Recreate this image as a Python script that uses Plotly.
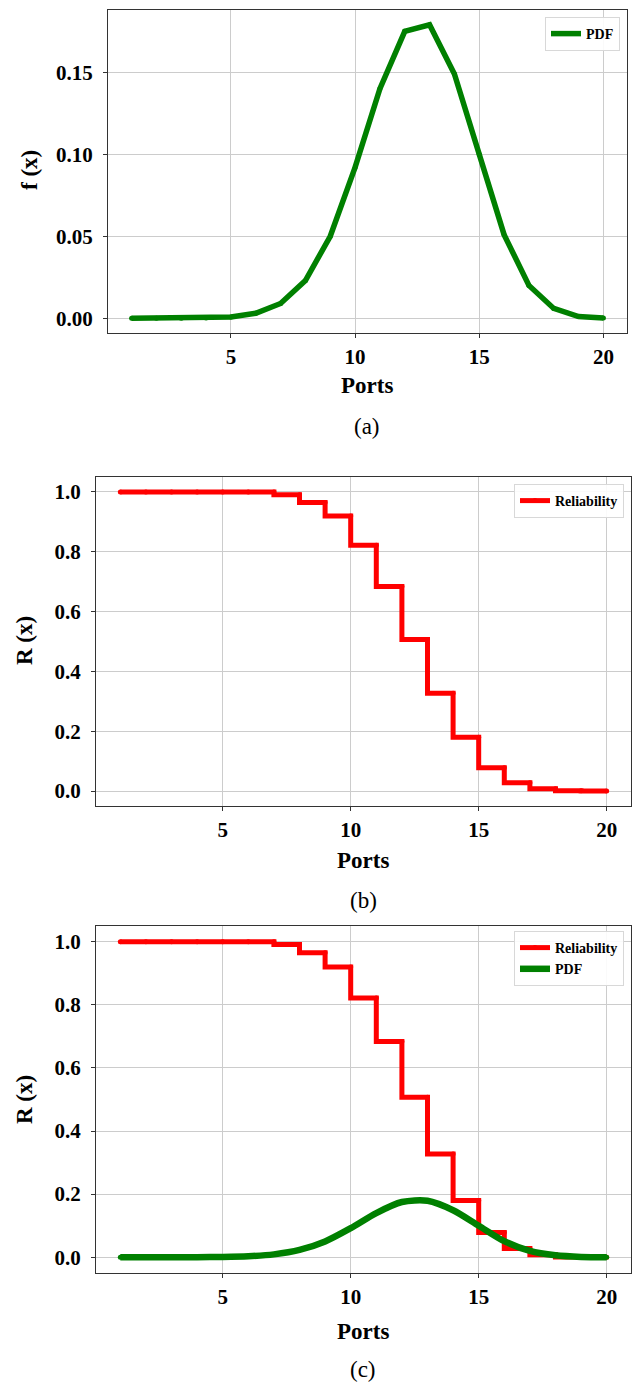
import plotly.graph_objects as go

ports = list(range(1, 21))
pdf = [0.0000, 0.0000, 0.0000, 0.0001, 0.0008, 0.003, 0.009, 0.023, 0.050, 0.092,
       0.140, 0.175, 0.179, 0.149, 0.100, 0.051, 0.020, 0.006, 0.001, 0.0002]
reliability = [1.0, 1.0, 1.0, 1.0, 1.0, 1.0, 1.0, 0.991, 0.965, 0.920,
               0.822, 0.684, 0.507, 0.327, 0.180, 0.078, 0.028, 0.008, 0.001, 0.0]
xticks = [5, 10, 15, 20]
ticks_a = [0.00, 0.05, 0.10, 0.15]
ticks_b = [0.0, 0.2, 0.4, 0.6, 0.8, 1.0]

W, H = 636, 1385
SERIF = "Liberation Serif, Times New Roman, serif"
GREEN = "#008000"
RED = "#ff0000"
GRID = "#cccccc"
AXC = "#333333"


def px(x):
    return x / W


def py(y):
    return 1 - y / H


fig = go.Figure()

# panel (a)
fig.add_trace(go.Scatter(x=ports, y=pdf, mode="lines+markers", name="PDF",
                         line=dict(color=GREEN, width=5.5),
                         marker=dict(color=GREEN, size=5),
                         xaxis="x", yaxis="y", legend="legend"))
# panel (b)
fig.add_trace(go.Scatter(x=ports, y=reliability, mode="lines+markers", name="Reliability",
                         line=dict(color=RED, width=5, shape="vh"),
                         marker=dict(color=RED, size=5),
                         xaxis="x2", yaxis="y2", legend="legend2"))
# panel (c)
fig.add_trace(go.Scatter(x=ports, y=reliability, mode="lines+markers", name="Reliability",
                         line=dict(color=RED, width=5, shape="vh"),
                         marker=dict(color=RED, size=5),
                         xaxis="x3", yaxis="y3", legend="legend3"))
fig.add_trace(go.Scatter(x=ports, y=pdf, mode="lines+markers", name="PDF",
                         line=dict(color=GREEN, width=6.5, shape="spline", smoothing=0.8),
                         marker=dict(color=GREEN, size=5),
                         xaxis="x3", yaxis="y3", legend="legend3"))

tickfont = dict(family=SERIF, size=21, color="black", weight="bold")


def xax(dom, anchor):
    return dict(domain=dom, anchor=anchor, range=[0.05, 20.95], tickvals=xticks,
                showgrid=True, gridcolor=GRID, gridwidth=1, zeroline=False,
                showline=True, linecolor=AXC, linewidth=1.3, mirror=True,
                ticks="outside", ticklen=4, tickcolor=AXC, tickfont=tickfont,
                ticklabelstandoff=1)


def yax(dom, anchor, rng, vals, fmt):
    return dict(domain=dom, anchor=anchor, range=rng, tickvals=vals, tickformat=fmt,
                showgrid=True, gridcolor=GRID, gridwidth=1, zeroline=False,
                showline=True, linecolor=AXC, linewidth=1.3, mirror=True,
                ticks="outside", ticklen=4, tickcolor=AXC, tickfont=tickfont,
                ticklabelstandoff=6)


legfont = dict(family=SERIF, size=14, color="black", weight="bold")


def leg(xr, yt):
    return dict(x=px(xr), y=py(yt), xanchor="right", yanchor="top",
                bgcolor="rgba(255,255,255,0.9)", bordercolor="#d8d8d8", borderwidth=1,
                font=legfont, itemwidth=30, tracegroupgap=0)


fig.update_layout(
    width=W, height=H, margin=dict(l=0, r=0, t=0, b=0),
    paper_bgcolor="white", plot_bgcolor="white",
    xaxis=xax([px(108), px(627)], "y"),
    yaxis=yax([py(333), py(10)], "x", [-0.009, 0.188], ticks_a, ".2f"),
    xaxis2=xax([px(96), px(631)], "y2"),
    yaxis2=yax([py(806), py(477)], "x2", [-0.05, 1.05], ticks_b, ".1f"),
    xaxis3=xax([px(96), px(631)], "y3"),
    yaxis3=yax([py(1273), py(926)], "x3", [-0.05, 1.05], ticks_b, ".1f"),
    legend=leg(620, 17),
    legend2=leg(624, 484),
    legend3=leg(624, 931),
    showlegend=True,
)

titlefont = dict(family=SERIF, size=23, color="black", weight="bold")
capfont = dict(family=SERIF, size=23, color="black")
ann = []
for xc, yc in [(367, 386), (363, 860), (363, 1331)]:
    ann.append(dict(x=px(xc), y=py(yc), xref="paper", yref="paper", text="Ports",
                    showarrow=False, font=titlefont, xanchor="center", yanchor="middle"))
for xc, yc, t in [(30, 170, "f (x)"), (24, 641, "R (x)"), (24, 1100, "R (x)")]:
    ann.append(dict(x=px(xc), y=py(yc), xref="paper", yref="paper", text=t,
                    showarrow=False, font=titlefont, textangle=-90,
                    xanchor="center", yanchor="middle"))
for xc, yc, t in [(367, 427, "(a)"), (363, 900, "(b)"), (363, 1369, "(c)")]:
    ann.append(dict(x=px(xc), y=py(yc), xref="paper", yref="paper", text=t,
                    showarrow=False, font=capfont, xanchor="center", yanchor="middle"))
fig.update_layout(annotations=ann)

fig.write_html("out.html")
